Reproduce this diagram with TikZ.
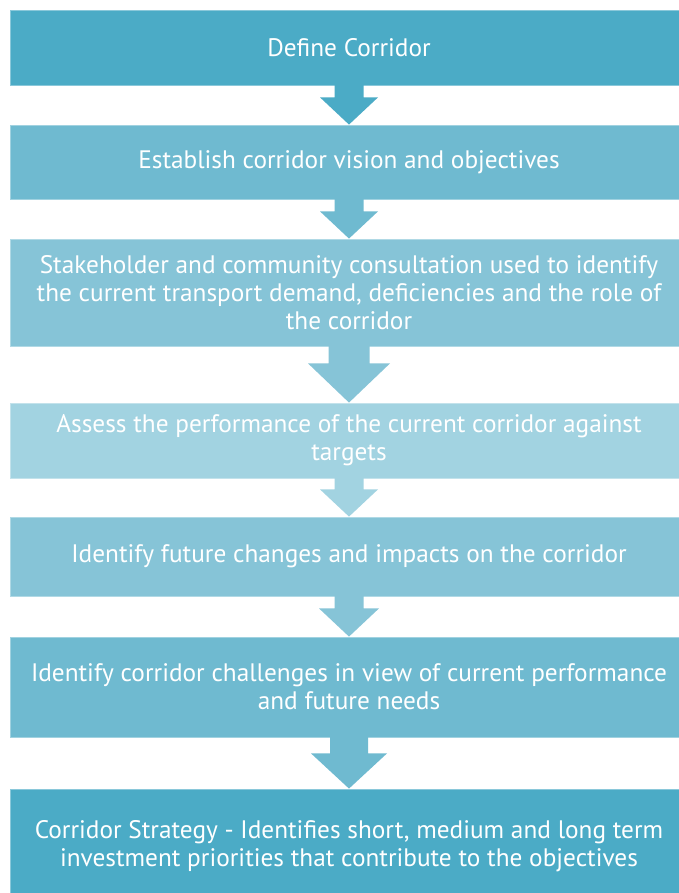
\documentclass[tikz,border=0pt]{standalone}
\usepackage{fontspec}
\setmainfont{PT Sans}
\usetikzlibrary{calc}
\definecolor{tealA}{HTML}{4BABC6}
\definecolor{tealB}{HTML}{6FBAD0}
\definecolor{tealC}{HTML}{86C4D7}
\definecolor{tealD}{HTML}{A2D3E1}
\tikzset{
  stagebox/.style={fill=#1, draw=white!35!#1, line width=0.8pt,
    minimum width=678pt, inner sep=0pt, text=white, align=center,
    font=\fontsize{25.3}{28}\selectfont},
}
% block arrow between two stages: from, to, half shaft, half head, shaft length, colour
\newcommand{\flowarrow}[6]{%
  \fill[#6] ($(#1.south)+(-#3,0.6)$) -- ($(#1.south)+(-#3,-#5)$)
    -- ($(#1.south)+(-#4,-#5)$) -- (#2.north)
    -- ($(#1.south)+(#4,-#5)$) -- ($(#1.south)+(#3,-#5)$)
    -- ($(#1.south)+(#3,0.6)$) -- cycle;}
\begin{document}
\begin{tikzpicture}[x=1pt,y=1pt]
\useasboundingbox (0,0) rectangle (678,893);
\fill[white] (0,0) rectangle (678,893);
\node[stagebox=tealA, minimum height=75pt] (s1) at (349,845.5) {Define Corridor};
\node[stagebox=tealB, minimum height=74pt] (s2) at (349,731) {Establish corridor vision and objectives};
\node[stagebox=tealC, minimum height=107pt] (s3) at (349,600.5) {Stakeholder and community consultation used to identify\\the current transport demand, deficiencies and the role of\\the corridor};
\node[stagebox=tealD, minimum height=75pt] (s4) at (349,452.5) {Assess the performance of the current corridor against\\targets};
\node[stagebox=tealC, minimum height=79pt] (s5) at (349,336.5) {Identify future changes and impacts on the corridor};
\node[stagebox=tealB, minimum height=100pt] (s6) at (349,206) {Identify corridor challenges in view of current performance\\and future needs};
\node[stagebox=tealA, minimum height=106pt] (s7) at (349,51) {};
\node[text=white, align=center, font=\fontsize{25.3}{28}\selectfont, inner sep=0pt] (s7t) at (349,47) {Corridor Strategy - Identifies short, medium and long term\\investment priorities that contribute to the objectives};
\flowarrow{s1}{s2}{14.5}{29}{12}{tealA}
\flowarrow{s2}{s3}{14.5}{29}{12}{tealB}
\flowarrow{s3}{s4}{20.5}{41}{17}{tealC}
\flowarrow{s4}{s5}{14.5}{29}{11}{tealD}
\flowarrow{s5}{s6}{14.5}{30}{12}{tealC}
\flowarrow{s6}{s7}{19}{38}{16}{tealB}
\end{tikzpicture}
\end{document}
